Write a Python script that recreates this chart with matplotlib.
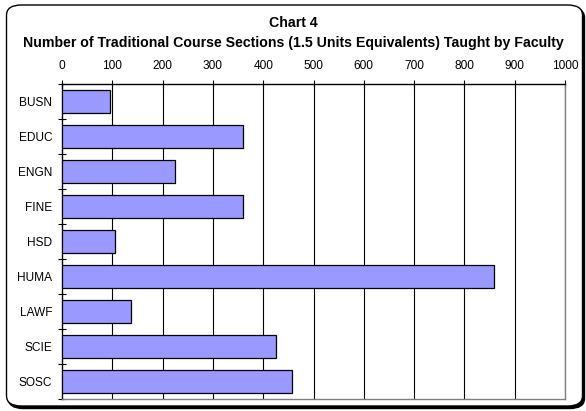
import matplotlib
matplotlib.use("Agg")
import matplotlib.pyplot as plt
from matplotlib.patches import FancyBboxPatch

categories = ["BUSN", "EDUC", "ENGN", "FINE", "HSD", "HUMA", "LAWF", "SCIE", "SOSC"]
values = [96, 360, 225, 360, 106, 859, 137, 426, 457]
xticks = [0, 100, 200, 300, 400, 500, 600, 700, 800, 900, 1000]

plt.rcParams['font.family'] = ['Liberation Sans', 'DejaVu Sans']

W, H = 586, 411
fig = plt.figure(figsize=(W/100, H/100), dpi=100)

# chart frame with shadow
shadow = FancyBboxPatch((8.5/W, 2.5/H), (576/W), (401/H),
                        boxstyle="round,pad=0,rounding_size=0.025",
                        transform=fig.transFigure, facecolor="black",
                        edgecolor="black", lw=1.0, zorder=0)
frame = FancyBboxPatch((6.5/W, 5/H), (576/W), (401/H),
                       boxstyle="round,pad=0,rounding_size=0.025",
                       transform=fig.transFigure, facecolor="white",
                       edgecolor="black", lw=1.0, zorder=1)
fig.patches.extend([shadow, frame])

ax = fig.add_axes([62/W, 1-399/H, 503/W, (399-84.3)/H])
ax.set_zorder(2)
ax.patch.set_alpha(0)

y = list(range(len(categories)))
ax.barh(y, values, height=0.67, color="#9999ff", edgecolor="black", lw=0.9, zorder=3)
ax.set_ylim(len(categories)-0.5, -0.5)
ax.set_xlim(0, 1000)

ax.xaxis.tick_top()
ax.set_xticks(xticks)
ax.set_xticklabels([str(t) for t in xticks], fontsize=8.6)
ax.tick_params(axis='x', direction='inout', length=6, width=0.8, pad=6)
ax.set_yticks(y)
ax.set_yticklabels(categories, fontsize=8.6)
ax.tick_params(axis='y', length=0, pad=7)
# category separator ticks
ax.set_yticks([i - 0.5 for i in range(len(categories)+1)], minor=True)
ax.tick_params(axis='y', which='minor', direction='inout', length=6, width=0.8)

for xv in xticks[1:]:
    ax.axvline(xv, color="black", lw=0.8, zorder=1)

for s in ['left', 'top']:
    ax.spines[s].set_color('black')
    ax.spines[s].set_linewidth(1.0)
for s in ['right', 'bottom']:
    ax.spines[s].set_color('#808080')
    ax.spines[s].set_linewidth(1.0)

fig.text(0.5, 1-23/H, "Chart 4", ha='center', va='center', fontsize=10.2, fontweight='bold')
fig.text(0.5, 1-42.5/H, "Number of Traditional Course Sections (1.5 Units Equivalents) Taught by Faculty",
         ha='center', va='center', fontsize=10.2, fontweight='bold')

fig.savefig("out.png", dpi=100)
